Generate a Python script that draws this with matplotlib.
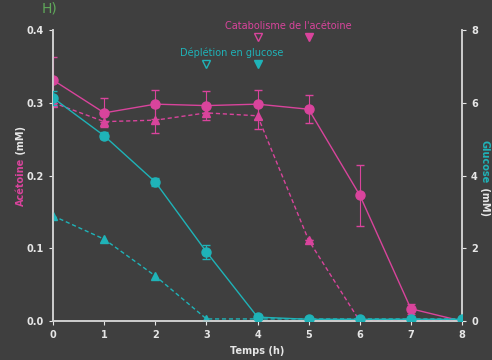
import matplotlib.pyplot as plt
import numpy as np

# data
temps = [0, 1, 2, 3, 4, 5, 6, 7, 8]

aceto_circ = [0.331, 0.286, 0.298, 0.296, 0.298, 0.291, 0.173, 0.017, 0.0]
aceto_circ_err = [0.032, 0.02, 0.02, 0.02, 0.02, 0.019, 0.042, 0.007, 0.0]
aceto_tri = [0.300, 0.274, 0.276, 0.286, 0.282, 0.111, 0.0, 0.0, 0.0]
aceto_tri_err = [0.0, 0.0, 0.018, 0.0, 0.018, 0.0, 0.0, 0.0, 0.0]

gluc_circ = [6.13, 5.09, 3.82, 1.90, 0.11, 0.05, 0.05, 0.05, 0.05]
gluc_circ_err = [0.2, 0.1, 0.12, 0.2, 0.0, 0.0, 0.0, 0.0, 0.0]
gluc_tri = [2.89, 2.25, 1.24, 0.06, 0.06, 0.06, 0.06, 0.06, 0.06]

bg = '#3f3f3f'
mag = '#d9449c'
cya = '#1fb3b8'
fg = '#e6e6e6'

fig = plt.figure(figsize=(4.92, 3.6), dpi=100, facecolor=bg)
ax = fig.add_axes([0.108, 0.108, 0.831, 0.809], facecolor=bg)
ax2 = ax.twinx()

# acetoine
ax.errorbar(temps, aceto_circ, yerr=aceto_circ_err, color=mag, marker='o', ms=6.5,
            lw=1, capsize=3, elinewidth=0.8, zorder=3)
ax.errorbar(temps, aceto_tri, yerr=aceto_tri_err, color=mag, marker='^', ms=5.5,
            lw=1, ls='--', dashes=(3, 2), capsize=3, elinewidth=0.8, zorder=3)

# glucose
ax2.errorbar(temps, gluc_circ, yerr=gluc_circ_err, color=cya, marker='o', ms=6.5,
             lw=1, capsize=3, elinewidth=0.8, zorder=3)
ax2.plot(temps, gluc_tri, color=cya, marker='^', ms=5.5, lw=1, ls='--', dashes=(3, 2))

ax.set_xlim(0, 8)
ax.set_ylim(0, 0.4)
ax2.set_ylim(0, 8)
ax.set_xticks(temps)
ax.set_yticks([0.0, 0.1, 0.2, 0.3, 0.4])
ax2.set_yticks([0, 2, 4, 6, 8])

for a in (ax, ax2):
    for s in a.spines.values():
        s.set_color('#cfcfcf')
        s.set_linewidth(1.2)
    a.spines['top'].set_visible(False)
    a.tick_params(colors=fg, labelsize=7, length=3, width=0.8)
ax.set_xticklabels([str(t) for t in temps], fontweight='bold')
ax.set_yticklabels(['0.0', '0.1', '0.2', '0.3', '0.4'], fontweight='bold')
ax2.set_yticklabels(['0', '2', '4', '6', '8'], fontweight='bold')

ax.set_xlabel('Temps (h)', color=fg, fontsize=7, fontweight='bold', labelpad=4)

# y labels with two colours
fig.text(0.043, 0.561, 'Acétoine', color=mag, fontsize=7, fontweight='bold',
         rotation=90, ha='center', va='top')
fig.text(0.043, 0.561, ' (mM)', color=fg, fontsize=7, fontweight='bold',
         rotation=90, ha='center', va='bottom')
fig.text(0.985, 0.49, 'Glucose', color=cya, fontsize=7, fontweight='bold',
         rotation=270, ha='center', va='bottom')
fig.text(0.985, 0.49, ' (mM)', color=fg, fontsize=7, fontweight='bold',
         rotation=270, ha='center', va='top')

# annotations
ax.text(3.5, 0.362, 'Déplétion en glucose', color=cya, fontsize=7, ha='center', va='bottom')
ax.plot([3], [0.353], marker='v', ms=5.5, mfc='none', mec=cya, clip_on=False)
ax.plot([4], [0.353], marker='v', ms=5.5, color=cya, clip_on=False)
ax.text(4.6, 0.398, "Catabolisme de l'acétoine", color=mag, fontsize=7, ha='center', va='bottom',
        clip_on=False)
ax.plot([4], [0.390], marker='v', ms=5.5, mfc='none', mec=mag, clip_on=False)
ax.plot([5], [0.390], marker='v', ms=5.5, color=mag, clip_on=False)

fig.text(0.085, 0.995, 'H)', color='#5fa85a', fontsize=10, ha='left', va='top')

plt.savefig('out.png', dpi=100, facecolor=bg)
